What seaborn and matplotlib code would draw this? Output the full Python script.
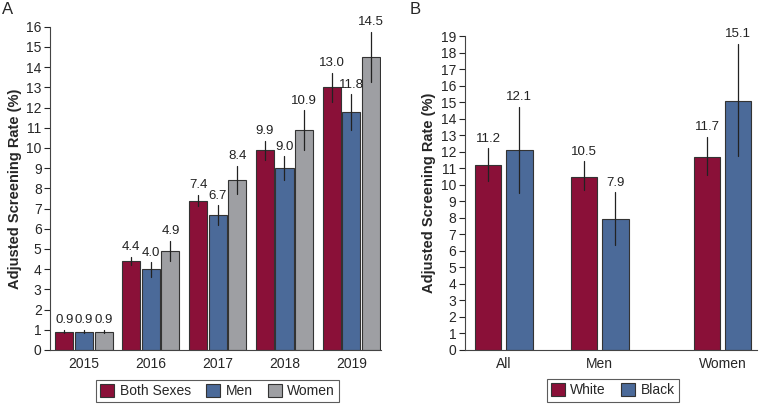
import pandas as pd
import numpy as np
import matplotlib
matplotlib.use('Agg')
import matplotlib.pyplot as plt
import seaborn as sns

sns.set_style('ticks')
plt.rcParams['font.family'] = ['Liberation Sans', 'DejaVu Sans']

# ---- panel A data
years = ['2015', '2016', '2017', '2018', '2019']
groups_a = ['Both Sexes', 'Men', 'Women']
rate_a = {'Both Sexes': [0.9, 4.4, 7.4, 9.9, 13.0],
          'Men':        [0.9, 4.0, 6.7, 9.0, 11.8],
          'Women':      [0.9, 4.9, 8.4, 10.9, 14.5]}
low_a = {'Both Sexes': [0.82, 4.2, 7.13, 9.41, 12.28],
         'Men':        [0.82, 3.63, 6.2, 8.4, 10.9],
         'Women':      [0.82, 4.4, 7.7, 9.88, 13.25]}
high_a = {'Both Sexes': [1.0, 4.62, 7.68, 10.36, 13.73],
          'Men':        [1.0, 4.34, 7.17, 9.6, 12.65],
          'Women':      [1.0, 5.4, 9.12, 11.87, 15.75]}

# ---- panel B data
cats_b = ['All', 'Men', 'Women']
xpos_b = [0, 1, 2.28]
groups_b = ['White', 'Black']
rate_b = {'White': [11.2, 10.5, 11.7],
          'Black': [12.1, 7.9, 15.1]}
low_b = {'White': [10.2, 9.7, 10.6],
         'Black': [9.48, 6.35, 11.77]}
high_b = {'White': [12.2, 11.41, 12.92],
          'Black': [14.72, 9.55, 18.55]}

colors_a = ['#8a1038', '#4b6a99', '#9e9fa3']
colors_b = ['#8a1038', '#4b6a99']


def long_table(xs, groups, rate, low, high):
    # three rows per bar: median = estimate, min-max = CI
    rows = []
    for g in groups:
        for i, x in enumerate(xs):
            for v in (low[g][i], rate[g][i], high[g][i]):
                rows.append({'x': x, 'group': g, 'value': v})
    return pd.DataFrame(rows)


df_a = long_table(years, groups_a, rate_a, low_a, high_a)
df_b = long_table(xpos_b, groups_b, rate_b, low_b, high_b)

fig = plt.figure(figsize=(7.62, 4.04), dpi=100)
ax1 = fig.add_axes([0.0656, 0.1337, 0.434, 0.800])
ax2 = fig.add_axes([0.610, 0.1337, 0.383, 0.777])

err = {'color': '#222222', 'linewidth': 0.9}

sns.barplot(data=df_a, x='x', y='value', hue='group', order=years,
            hue_order=groups_a, palette=colors_a, saturation=1,
            estimator='median', errorbar=('pi', 100), err_kws=err,
            width=0.88, gap=0.08, edgecolor='#333333', linewidth=0.8, ax=ax1)

sns.barplot(data=df_b, x='x', y='value', hue='group', native_scale=True,
            hue_order=groups_b, palette=colors_b, saturation=1,
            estimator='median', errorbar=('pi', 100), err_kws=err,
            width=0.65, gap=0.15, edgecolor='#333333', linewidth=0.8, ax=ax2)


def value_labels(ax, xs_list, groups, rate, high, width):
    n = len(groups)
    for j, g in enumerate(groups):
        for i, x in enumerate(xs_list):
            off = (j - (n - 1) / 2) * width / n
            ax.annotate('%.1f' % rate[g][i], (x + off, high[g][i]),
                        xytext=(0, 2.5), textcoords='offset points',
                        ha='center', va='bottom', fontsize=9.5, color='#222222')


value_labels(ax1, range(len(years)), groups_a, rate_a, high_a, 0.88)
value_labels(ax2, xpos_b, groups_b, rate_b, high_b, 0.65)

ax1.set_ylim(0, 16)
ax1.set_yticks(range(0, 17))
ax1.set_xlim(-0.51, 4.44)
ax2.set_ylim(0, 19)
ax2.set_yticks(range(0, 20))
ax2.set_xlim(-0.406, 2.635)
ax2.set_xticks(xpos_b)
ax2.set_xticklabels(cats_b)

for ax, grps in ((ax1, groups_a), (ax2, groups_b)):
    sns.despine(ax=ax)
    ax.set_xlabel('')
    ax.set_ylabel('Adjusted Screening Rate (%)', fontsize=10.5, fontweight='bold')
    ax.tick_params(axis='y', labelsize=10, length=4, width=0.8, pad=2)
    ax.tick_params(axis='x', labelsize=10, length=0, pad=5)
    for s in ('left', 'bottom'):
        ax.spines[s].set_linewidth(0.8)
        ax.spines[s].set_color('#444444')
    leg = ax.legend(loc='upper center', bbox_to_anchor=(0.507, -0.093),
                    borderaxespad=0, ncol=len(grps), frameon=True,
                    fancybox=False, fontsize=10, handlelength=1.0,
                    handleheight=1.0, handletextpad=0.4, columnspacing=1.1,
                    borderpad=0.3)
    leg.get_frame().set_edgecolor('#333333')
    leg.get_frame().set_linewidth(0.8)

ax1.yaxis.set_label_coords(-0.085, 0.5)
ax2.yaxis.set_label_coords(-0.1, 0.5)

fig.text(0.003, 0.995, 'A', fontsize=12, va='top', ha='left')
fig.text(0.538, 0.995, 'B', fontsize=12, va='top', ha='left')

fig.savefig('out.png', dpi=100)
